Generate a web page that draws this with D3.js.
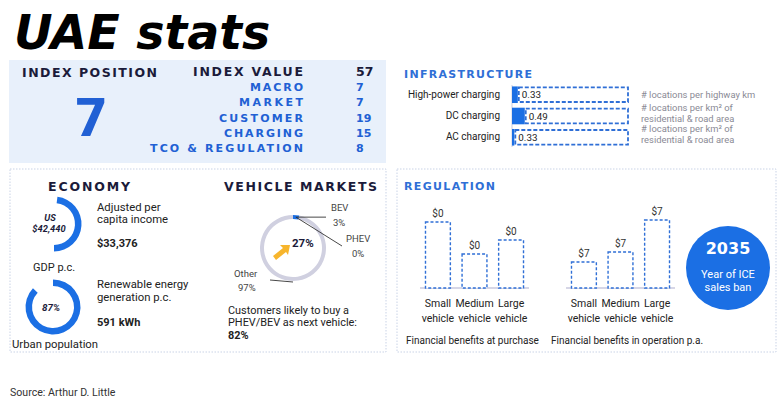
<!DOCTYPE html>
<html><head><meta charset="utf-8">
<script src="https://cdn.jsdelivr.net/npm/d3@7"></script>
<style>
html,body{margin:0;padding:0;background:#fff;}
svg{display:block;font-family:Roboto,sans-serif;}
</style></head><body>
<div id="chart"></div>
<script>
// ---------- DATA ----------
const title = "UAE stats";
const indexPosition = 7;
const indexLabels = ["INDEX VALUE","MACRO","MARKET","CUSTOMER","CHARGING","TCO & REGULATION"];
const indexValues = [57, 7, 7, 19, 15, 8];

const infraLabels = ["High-power charging","DC charging","AC charging"];
const infraValues = [0.33, 0.49, 0.33];
const infraFillShare = [0.05, 0.11, 0.02];
const infraNotes = [["# locations per highway km"],["# locations per km² of","residential & road area"],["# locations per km² of","residential & road area"]];

const gdpPerCapita = "US $42,440";
const gdpArcShare = 0.5;
const adjustedIncome = "$33,376";
const renewablePerCapita = "591 kWh";
const urbanPopulation = 87;

const marketLabels = ["BEV","PHEV","Other"];
const marketShares = [3, 0, 97];
const marketGrowth = "27%";
const nextVehicleShare = "82%";

const vehicleClasses = ["Small","Medium","Large"];
const purchaseLabels = ["$0","$0","$0"];
const purchaseLevels = [66, 34, 48];
const operationLabels = ["$7","$7","$7"];
const operationLevels = [26, 36, 68];
const iceBanYear = "2035";
const source = "Source: Arthur D. Little";

// ---------- DRAW ----------
const W = 780, H = 405;
const navy = "#1b1b3a", blue = "#2160d4", brightBlue = "#1b6fe4", grey = "#8a8a95";
const headFont = "DejaVu Sans";
const svg = d3.select("#chart").append("svg").attr("width", W).attr("height", H);

function heading(x, y, txt, size, color, len, anchor) {
  const t = svg.append("text").attr("x", x).attr("y", y).text(txt)
    .attr("font-family", headFont).attr("font-weight", "bold").attr("font-size", size).attr("fill", color)
    .attr("text-anchor", anchor || "start");
  if (len) t.attr("textLength", len).attr("lengthAdjust", "spacing");
  return t;
}
function label(x, y, txt, size, opts) {
  opts = opts || {};
  return svg.append("text").attr("x", x).attr("y", y).text(txt).attr("font-size", size)
    .attr("fill", opts.fill || "#222").attr("font-weight", opts.bold ? "bold" : "normal")
    .attr("font-style", opts.italic ? "italic" : "normal").attr("text-anchor", opts.anchor || "start");
}

svg.append("text").attr("x", 14).attr("y", 49).text(title)
  .attr("font-family", "DejaVu Sans").attr("font-weight", "bold").attr("font-style", "italic")
  .attr("font-size", 47.5).attr("fill", "#000");

// Index panel
svg.append("rect").attr("x", 9).attr("y", 60).attr("width", 377).attr("height", 103).attr("fill", "#e8f0fb");
heading(22, 77, "INDEX POSITION", 12.5, navy, 135);
svg.append("text").attr("x", 91).attr("y", 136).attr("text-anchor", "middle").text(indexPosition)
  .attr("font-family", "Roboto").attr("font-weight", 900).attr("font-size", 53).attr("fill", blue);
const rowY = d3.scalePoint().domain(indexLabels).range([76, 152]);
const rowLen = [110, 53, 64, 84, 79, 153];
indexLabels.forEach((l, i) => {
  heading(303, rowY(l), l, i === 0 ? 12.5 : 11, i === 0 ? navy : blue, rowLen[i], "end");
  svg.append("text").attr("x", 356).attr("y", rowY(l)).text(indexValues[i])
    .attr("font-family", headFont).attr("font-weight", "bold").attr("font-size", i === 0 ? 12.5 : 11).attr("fill", i === 0 ? navy : blue);
});

// Infrastructure
heading(404, 78, "INFRASTRUCTURE", 11, "#2f6fd6", 128);
const iy = d3.scaleBand().domain(infraLabels).range([86, 146]).paddingInner(0.22).paddingOuter(0.02);
const ix = d3.scaleLinear().domain([0, 1]).range([512, 628]);
svg.append("line").attr("x1", 512).attr("x2", 512).attr("y1", 85).attr("y2", 147).attr("stroke", "#ccd").attr("stroke-width", 1);
infraLabels.forEach((l, i) => {
  const y = iy(l), h = iy.bandwidth();
  const fx = ix(infraFillShare[i]);
  svg.append("rect").attr("x", ix(0)).attr("y", y).attr("width", fx - ix(0)).attr("height", h).attr("fill", brightBlue);
  svg.append("rect").attr("x", fx + 1).attr("y", y + 1).attr("width", ix(1) - fx - 1).attr("height", h - 2)
    .attr("fill", "none").attr("stroke", "#2f6fd6").attr("stroke-width", 1.8).attr("stroke-dasharray", "4,2");
  label(fx + 4, y + h / 2 + 3.5, infraValues[i].toFixed(2), 9.8);
  label(500, y + h / 2 + 3, l, 10, {anchor: "end"});
  const notes = infraNotes[i];
  notes.forEach((n, j) => {
    const ny = notes.length === 1 ? y + h / 2 + 3 : y + 3 + j * 11.2;
    label(641, ny, n, 9.4, {fill: grey});
  });
});

// Bottom panels
[[10, 169, 376, 183], [397, 169, 379, 183]].forEach(r => {
  svg.append("rect").attr("x", r[0]).attr("y", r[1]).attr("width", r[2]).attr("height", r[3])
    .attr("fill", "none").attr("stroke", "#c9d3e6").attr("stroke-width", 1).attr("stroke-dasharray", "1.5,1.5");
});

// Economy
heading(48, 191, "ECONOMY", 12.5, navy, 82);
const tau = 2 * Math.PI;
const ringArc = d3.arc().innerRadius(21).outerRadius(27.5);
svg.append("path").attr("transform", "translate(54,224)")
  .attr("d", ringArc({startAngle: 0.02 * tau, endAngle: gdpArcShare * tau})).attr("fill", brightBlue);
const gdpParts = gdpPerCapita.split(" ");
label(50, 220.5, gdpParts[0], 9.3, {bold: true, italic: true, fill: navy, anchor: "middle"});
label(49, 232, gdpParts[1], 9.3, {bold: true, italic: true, fill: navy, anchor: "middle"});
label(33, 271, "GDP p.c.", 11);

const urbanScale = d3.scaleLinear().domain([0, 100]).range([0, tau]);
svg.append("path").attr("transform", "translate(53,307)")
  .attr("d", ringArc({startAngle: 0, endAngle: urbanScale(urbanPopulation)})).attr("fill", brightBlue);
label(51, 311, urbanPopulation + "%", 9.8, {bold: true, italic: true, fill: navy, anchor: "middle"});
label(12, 348, "Urban population", 11.3);

[["Adjusted per", 210.5, false], ["capita income", 223, false], [adjustedIncome, 247, true],
 ["Renewable energy", 288, false], ["generation p.c.", 300.5, false], [renewablePerCapita, 326, true]].forEach(t => {
  label(97, t[1], t[0], t[2] ? 11 : 11.3, {bold: t[2]});
});

// Vehicle markets
heading(224, 191, "VEHICLE MARKETS", 12.5, navy, 153);
const dc = [293, 248];
const pie = d3.pie().sort(null).value(d => d)(marketShares);
const donutArc = d3.arc().innerRadius(29).outerRadius(33);
const donutColors = [brightBlue, "#8fb3ee", "#d0d0e0"];
const dg = svg.append("g").attr("transform", `translate(${dc[0]},${dc[1]})`);
dg.selectAll("path").data(pie).join("path").attr("d", donutArc).attr("fill", (d, i) => donutColors[i]);
const bevMid = donutArc.centroid(pie[0]);
const lineG = svg.append("g").attr("stroke", "#333").attr("stroke-width", 0.9);
lineG.append("line").attr("x1", dc[0] + bevMid[0]).attr("y1", dc[1] + bevMid[1]).attr("x2", 326).attr("y2", dc[1] + bevMid[1]);
lineG.append("line").attr("x1", dc[0] + bevMid[0]).attr("y1", dc[1] + bevMid[1]).attr("x2", 342).attr("y2", 246);
lineG.append("line").attr("x1", 270).attr("y1", 280).attr("x2", dc[0]).attr("y2", dc[1] + 34);
const mlab = [[331, 211, 333, 226], [346, 242, 352, 257], [234, 277, 238, 291]];
marketLabels.forEach((l, i) => {
  label(mlab[i][0], mlab[i][1], l, 9.5, {fill: "#444"});
  label(mlab[i][2], mlab[i][3], marketShares[i] + "%", 9.5, {fill: "#444"});
});
const arrow = d3.path();
arrow.moveTo(-3, 3); arrow.lineTo(7, -5); arrow.lineTo(4, -8); arrow.lineTo(14, -8);
arrow.lineTo(12, 2); arrow.lineTo(10, -1); arrow.lineTo(0, 7); arrow.closePath();
svg.append("path").attr("transform", `translate(${dc[0] - 17},${dc[1] + 5})`).attr("d", arrow.toString()).attr("fill", "#f7b52c");
label(292, 247, marketGrowth, 11.5, {bold: true, fill: navy});
[["Customers likely to buy a", 313.5, false], ["PHEV/BEV as next vehicle:", 326, false], [nextVehicleShare, 338.5, true]].forEach(t => {
  label(228, t[1], t[0], 10.9, {bold: t[2]});
});

// Regulation
heading(404, 190, "REGULATION", 11, "#2f6fd6", 91);
const yReg = d3.scaleLinear().domain([0, 70]).range([288, 218]);
function regGroup(x0, x1, levels, labels, caption, capX) {
  const xb = d3.scaleBand().domain(vehicleClasses).range([x0, x1]).paddingInner(0.32).paddingOuter(0.15);
  const g = svg.append("g");
  g.append("line").attr("x1", x0).attr("x2", x1).attr("y1", yReg(0)).attr("y2", yReg(0)).attr("stroke", "#c9c9de").attr("stroke-width", 1.5);
  vehicleClasses.forEach((c, i) => {
    const x = xb(c), w = xb.bandwidth();
    g.append("rect").attr("x", x).attr("y", yReg(levels[i])).attr("width", w).attr("height", yReg(0) - yReg(levels[i]))
      .attr("fill", "#fff").attr("stroke", "#2f6fd6").attr("stroke-width", 1.4).attr("stroke-dasharray", "3,2");
    label(x + w / 2, yReg(levels[i]) - 5, labels[i], 10, {fill: "#333", anchor: "middle"});
    label(x + w / 2, 307, c, 10.5, {anchor: "middle"});
    label(x + w / 2, 322, "vehicle", 10.5, {anchor: "middle"});
  });
  label(capX, 344, caption, 10);
}
regGroup(420, 529, purchaseLevels, purchaseLabels, "Financial benefits at purchase", 406);
regGroup(566, 675, operationLevels, operationLabels, "Financial benefits in operation p.a.", 551);

svg.append("circle").attr("cx", 728).attr("cy", 268).attr("r", 42).attr("fill", brightBlue);
svg.append("text").attr("x", 728).attr("y", 254).attr("text-anchor", "middle").text(iceBanYear)
  .attr("font-family", headFont).attr("font-weight", "bold").attr("font-size", 16).attr("fill", "#fff");
label(728, 277.5, "Year of ICE", 11, {fill: "#fff", anchor: "middle"});
label(728, 290.5, "sales ban", 11, {fill: "#fff", anchor: "middle"});

label(10, 396, source, 10.6, {fill: "#333"});
</script>
</body></html>
